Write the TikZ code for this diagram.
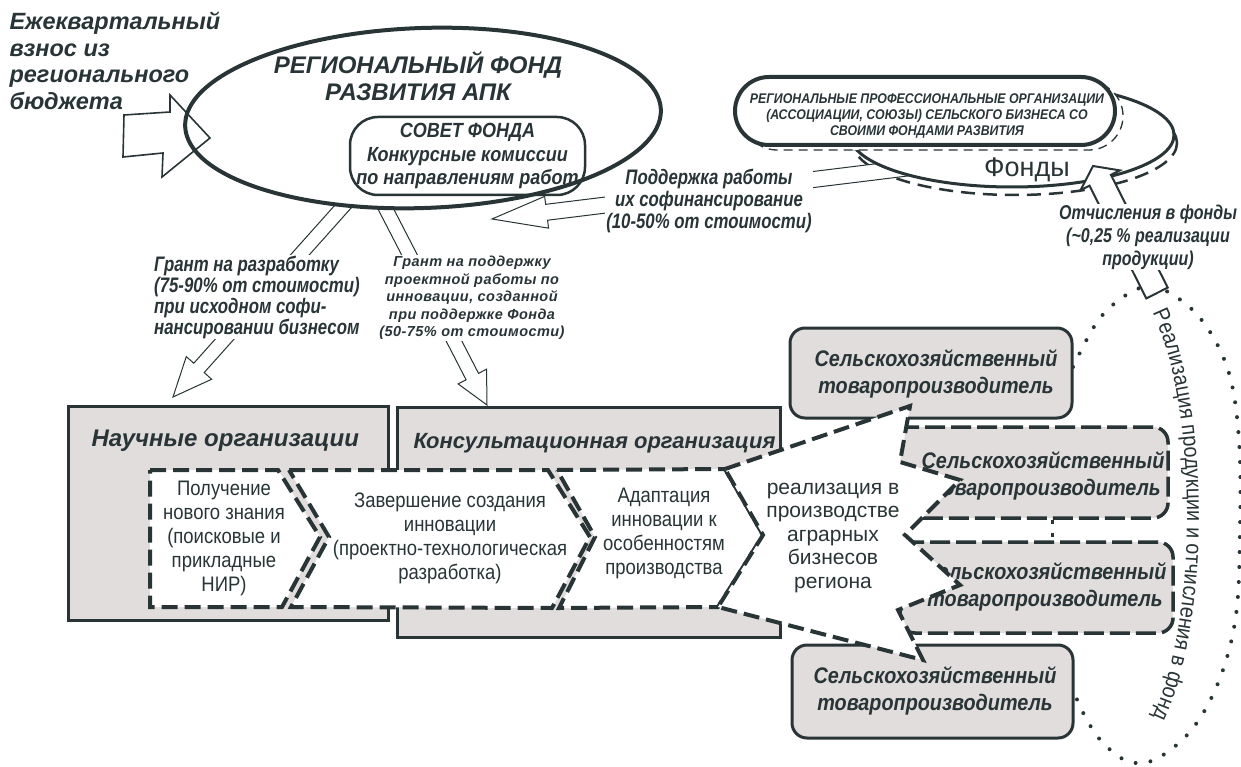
\documentclass[tikz,border=0pt]{standalone}
\usepackage{fontspec}
\setmainfont{Liberation Sans}
\newfontfamily\cnd[FakeStretch=0.88]{Liberation Sans}
\newfontfamily\cndn[FakeStretch=0.8]{Liberation Sans}
\newfontfamily\lsp[LetterSpace=3]{Liberation Sans}
\usetikzlibrary{shapes.geometric,decorations.text,calc}
\definecolor{dk}{RGB}{40,52,54}
\definecolor{gr}{RGB}{224,221,220}
% block arrow: [style]{tail x}{tail y}{tip x}{tip y}{shaft half}{head half}{head length}  (image coords, y down)
\newcommand\blockarrow[8][]{%
  \pgfmathsetmacro\baang{atan2((#3)-(#5),(#4)-(#2))}%
  \pgfmathsetmacro\balen{veclen((#4)-(#2),(#5)-(#3))}%
  \draw[#1,shift={(#2,-#3)},rotate=\baang] (0,-#6) -- ({\balen-#8},-#6) -- ({\balen-#8},-#7) -- (\balen,0) -- ({\balen-#8},#7) -- ({\balen-#8},#6) -- (0,#6) -- cycle;}
\begin{document}
\begin{tikzpicture}[x=1pt,y=1pt,
  every node/.style={text=dk},
  graybox/.style={draw=dk, fill=gr, line width=3pt, inner sep=0pt},
  chev/.style={draw=dk, fill=white, line width=4pt, dash pattern=on 16pt off 7pt},
  rbox/.style={draw=dk, fill=gr, line width=3pt, rounded corners=15pt, inner sep=0pt},
  rboxd/.style={rbox, line width=3.5pt, dash pattern=on 20pt off 6pt},
  thinarrow/.style={draw=dk, line width=1pt, fill=white},
  midarrow/.style={draw=dk, line width=2pt, fill=white},
  boxtext/.style={align=center, font=\cnd\bfseries\itshape\fontsize{22.5}{27}\selectfont},
  chevtext/.style={align=center, font=\cnd\fontsize{21}{24}\selectfont},
  lbl/.style={fill=white, inner sep=1pt, font=\cndn\bfseries\itshape\fontsize{21}{22}\selectfont}]
\useasboundingbox (0,0) rectangle (1241,-767);

% ---------- lower gray organisation boxes ----------
\node[graybox, minimum width=320pt, minimum height=214pt] (nauch) at (228,-513) {};
\node[graybox, minimum width=383pt, minimum height=230pt] (kons) at (588.5,-522) {};
\node[anchor=west, font=\bfseries\itshape\fontsize{24}{26}\selectfont] (nauchT) at (88,-441) {Научные организации};
\node[anchor=west, font=\bfseries\itshape\fontsize{22}{24}\selectfont] (konsT) at (410,-443) {Консультационная организация};

% ---------- chevrons ----------
\draw[chev] (150,-470) -- (278,-470) -- (320,-537) -- (282,-607) -- (150,-607) -- cycle;
\draw[chev] (289,-470) -- (548,-470) -- (590,-537) -- (552,-608) -- (291,-607) -- (329,-537) -- cycle;
\draw[chev] (557,-470) -- (725,-469) -- (763,-535) -- (718,-607) -- (559,-608) -- (595,-537) -- cycle;
\node[chevtext] (c1) at (224,-538) {Получение\\нового знания\\(поисковые и\\прикладные\\НИР)};
\node[chevtext] (c2) at (450,-538) {Завершение создания\\инновации\\(проектно-технологическая\\разработка)};
\node[chevtext] (c3) at (664,-533) {Адаптация\\инновации к\\особенностям\\производства};

% ---------- right producer boxes ----------
\node[rbox, minimum width=282pt, minimum height=90pt] (b1) at (931,-373) {};
\node[rboxd, minimum width=273pt, minimum height=91pt] (b2) at (1031.5,-472.5) {};
\node[rboxd, minimum width=273pt, minimum height=91pt] (b3) at (1036.5,-587.5) {};
\node[rbox, minimum width=281pt, minimum height=93pt] (b4) at (932.5,-691.5) {};
\node[boxtext] (t1) at (936,-374) {Сельскохозяйственный\\товаропроизводитель};
\node[boxtext] (t2) at (1043,-476) {Сельскохозяйственный\\товаропроизводитель};
\node[boxtext] (t3) at (1045,-587) {Сельскохозяйственный\\товаропроизводитель};
\node[boxtext] (t4) at (935,-691) {Сельскохозяйственный\\товаропроизводитель};
\draw[dk, line width=3pt, dash pattern=on 4pt off 9pt] ([xshift=20.5pt]b2.south) -- ([xshift=15.5pt]b3.north);

% ---------- big realisation arrow ----------
\draw[chev] (725,-469) -- (910,-406) -- (900,-462) -- (960,-480) -- (905,-535) -- (960,-585) -- (898,-610) -- (923,-660) -- (718,-607) -- (763,-535) -- cycle;
\node[align=center, font=\fontsize{21}{23.5}\selectfont] (real) at (833,-538) {реализация в\\производстве\\аграрных\\бизнесов\\региона};

% ---------- dotted loop with text ----------
\draw[dk, line width=4pt, line cap=round, dash pattern=on 0pt off 15pt] plot[smooth, tension=0.6] coordinates {(1073,-367) (1100,-318) (1135,-290) (1162,-289) (1200,-318) (1228,-370) (1239,-440) (1240,-530) (1236,-615) (1220,-678) (1193,-728) (1158,-758) (1130,-762) (1105,-745) (1088,-722) (1075,-695)};
\path[decorate, decoration={text along path, text align=center, text color=dk,
  text={|\cnd\fontsize{22.5}{22.5}\selectfont|Реализация продукции и отчисления в фонд}}]
  (1144.9,-299.3) arc[start angle=64, end angle=-64, x radius=75, y radius=240];

% ---------- grant arrows ----------
\coordinate (g1tail) at (356,-192); \coordinate (g1tip) at (173,-397);
\coordinate (g2tail) at (376,-190); \coordinate (g2tip) at (487,-405);
\blockarrow[thinarrow]{356}{192}{173}{397}{7}{17}{39}
\blockarrow[thinarrow]{376}{190}{487}{405}{7}{16}{32}
\node[fill=white, inner sep=1pt, align=left, anchor=west, font=\cndn\bfseries\itshape\fontsize{21}{21}\selectfont] (grant1) at (153,-297) {Грант на разработку\\(75-90\% от стоимости)\\при исходном софи-\\нансировании бизнесом};
\node[fill=white, inner sep=1pt, align=center, font=\lsp\bfseries\itshape\fontsize{14.5}{17.5}\selectfont] (grant2) at (472,-298) {Грант на поддержку\\проектной работы по\\инновации, созданной\\при поддержке Фонда\\(50-75\% от стоимости)};

% ---------- funds group (top right) ----------
\node[ellipse, draw=dk, line width=2.5pt, dash pattern=on 14pt off 8pt, minimum width=324pt, minimum height=104pt, inner sep=0pt] (fondyS) at (1015,-143) {};
\coordinate (ptail) at (956,-162); \coordinate (ptip) at (492,-219);
\blockarrow[thinarrow]{956}{162}{492}{219}{8}{16}{55}
\node[lbl, align=center] (podd) at (709,-201) {Поддержка работы\\их софинансирование\\(10-50\% от стоимости)};
\node[ellipse, draw=dk, fill=white, line width=3pt, minimum width=324pt, minimum height=104pt, inner sep=0pt] (fondy) at (1012,-135) {};
\draw[dk, fill=white, line width=1.3pt, dash pattern=on 9pt off 6pt, rounded corners=34pt] (743,-82) rectangle (1123,-150);
\node[draw=dk, fill=white, line width=4pt, rounded corners=34pt, minimum width=380pt, minimum height=68pt, inner sep=0pt] (assoc) at (925,-111) {};
\node[align=center, font=\cnd\bfseries\itshape\fontsize{14}{16}\selectfont] (assocT) at (927,-116) {РЕГИОНАЛЬНЫЕ ПРОФЕССИОНАЛЬНЫЕ ОРГАНИЗАЦИИ\\(АССОЦИАЦИИ, СОЮЗЫ) СЕЛЬСКОГО БИЗНЕСА СО\\СВОИМИ ФОНДАМИ РАЗВИТИЯ};
\node[font=\fontsize{27}{27}\selectfont] (fondyT) at (1027,-170) {Фонды};

% ---------- regional fund ----------
\node[ellipse, fill=white, minimum width=476pt, minimum height=180pt, inner sep=0pt, rotate=2] (fond) at (423,-118) {};
\node[align=center, font=\bfseries\itshape\fontsize{24}{27}\selectfont] (title) at (418,-76) {РЕГИОНАЛЬНЫЙ ФОНД\\РАЗВИТИЯ АПК};
\node[draw=dk, fill=white, line width=2.5pt, rounded corners=28pt, minimum width=235pt, minimum height=78pt, inner sep=0pt, align=center, font=\cnd\bfseries\itshape\fontsize{20.5}{23.5}\selectfont] (sovet) at (467.5,-156) {СОВЕТ ФОНДА\\Конкурсные комиссии\\по направлениям работ};
\node[ellipse, draw=dk, line width=4pt, minimum width=476pt, minimum height=180pt, inner sep=0pt, rotate=2] (fondO) at (fond.center) {};
\node[anchor=west, align=left, font=\bfseries\itshape\fontsize{23.5}{26.5}\selectfont] (vznos) at (6,-61) {Ежеквартальный\\взнос из\\регионального\\бюджета};
\draw[dk, line width=1.6pt] (124,-115) -- (170,-112) -- (170,-95) -- (210,-138) -- (162,-177) -- (163,-153) -- (123,-157) -- cycle;

% ---------- allocations arrow ----------
\coordinate (otail) at (1157,-293); \coordinate (otip) at (1093,-166);
\blockarrow[midarrow]{1157}{293}{1093}{166}{12}{22}{16}
\node[lbl, align=center, font=\cndn\bfseries\itshape\fontsize{20}{23}\selectfont] (otch) at (1148,-237) {Отчисления в фонды\\(\textasciitilde 0,25 \% реализации\\продукции)};
\end{tikzpicture}
\end{document}
